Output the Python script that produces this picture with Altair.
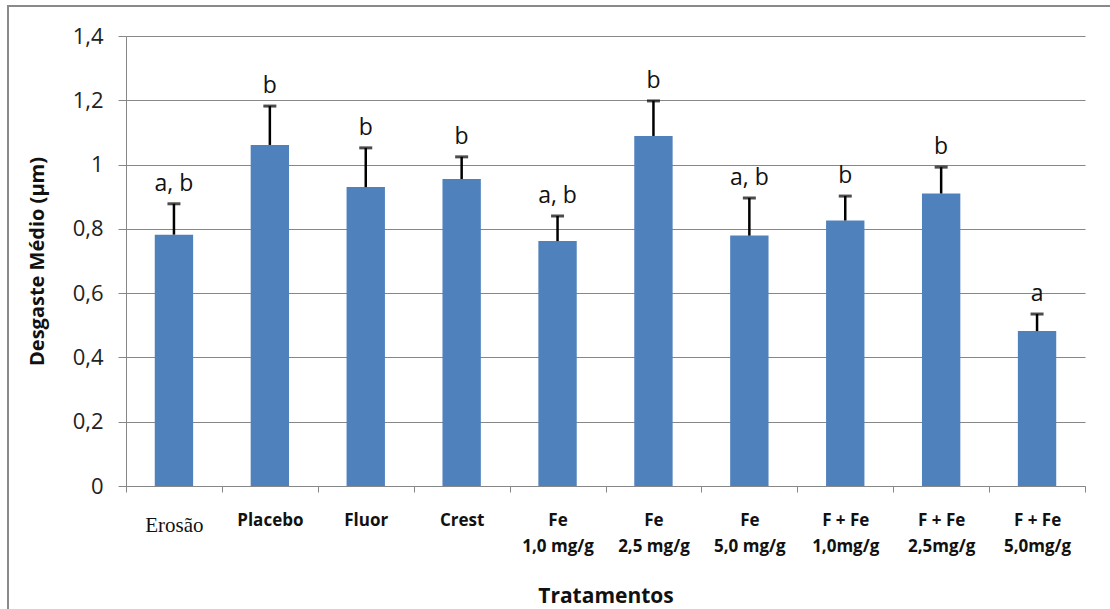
import altair as alt
import pandas as pd

# Tratamentos (line breaks mark two-line axis labels)
tratamentos = [
    "Erosão", "Placebo", "Fluor", "Crest",
    "Fe\n1,0 mg/g", "Fe\n2,5 mg/g", "Fe\n5,0 mg/g",
    "F + Fe\n1,0mg/g", "F + Fe\n2,5mg/g", "F + Fe\n5,0mg/g",
]
# Desgaste médio (µm) and its standard deviation
media = [0.782, 1.061, 0.930, 0.955, 0.762, 1.089, 0.779, 0.826, 0.910, 0.482]
desvio = [0.096, 0.121, 0.122, 0.069, 0.078, 0.109, 0.117, 0.076, 0.082, 0.053]
# Statistical grouping letters
letras = ["a, b", "b", "b", "b", "a, b", "b", "a, b", "b", "b", "a"]
y_ticks = [0, 0.2, 0.4, 0.6, 0.8, 1.0, 1.2, 1.4]

df = pd.DataFrame({
    "trat": tratamentos,
    "media": media,
    "desvio": desvio,
    "letra": letras,
})
df["sup"] = df["media"] + df["desvio"]

GRID = "#878787"
BAR = "#4F81BD"
FONT = "Open Sans"

x_enc = alt.X(
    "trat:N",
    sort=tratamentos,
    scale=alt.Scale(paddingInner=0, paddingOuter=0),
    axis=alt.Axis(
        title="Tratamentos",
        titleFont=FONT,
        titleFontSize=21,
        titleFontWeight="bold",
        titleColor="#111",
        titlePadding=31,
        labelAngle=0,
        labelExpr="split(datum.label, '\\n')",
        labelFont={"condition": {"test": "datum.value == 'Erosão'", "value": "Liberation Serif"}, "value": FONT},
        labelFontWeight={"condition": {"test": "datum.value == 'Erosão'", "value": "normal"}, "value": "bold"},
        labelFontSize={"condition": {"test": "datum.value == 'Erosão'", "value": 21}, "value": 17},
        labelBaseline={"condition": {"test": "datum.value == 'Erosão'", "value": "line-top"}, "value": "top"},
        labelLineHeight=26,
        labelColor="#111",
        labelPadding=20,
        tickBand="extent",
        tickSize=6,
        tickColor=GRID,
        domainColor=GRID,
        grid=False,
    ),
)

y_enc = alt.Y(
    "media:Q",
    scale=alt.Scale(domain=[0, 1.4], nice=False),
    axis=alt.Axis(
        title="Desgaste Médio (µm)",
        titleFont=FONT,
        titleFontSize=20,
        titleFontWeight="bold",
        titleColor="#111",
        titlePadding=25,
        values=y_ticks,
        labelExpr="replace(format(datum.value, '.1~f'), '.', ',')",
        labelFont=FONT,
        labelFontSize=22,
        labelColor="#222",
        labelPadding=15,
        tickSize=8,
        tickColor=GRID,
        domainColor=GRID,
        gridColor=GRID,
        gridWidth=1,
    ),
)

base = alt.Chart(df)

bars = base.mark_bar(color=BAR, width=alt.RelativeBandSize(0.4)).encode(x=x_enc, y=y_enc)

err = base.mark_rule(color="black", strokeWidth=2.5).encode(
    x=alt.X("trat:N", sort=tratamentos), y="media:Q", y2="sup:Q"
)

caps = base.mark_tick(color="black", size=13, thickness=3).encode(
    x=alt.X("trat:N", sort=tratamentos), y="sup:Q"
)

labels = base.mark_text(
    font=FONT, fontSize=23, color="#111", baseline="alphabetic", dy=-13
).encode(x=alt.X("trat:N", sort=tratamentos), y="sup:Q", text="letra:N")

# outer frame around the whole figure
frame = alt.Chart(alt.Data(values=[{}])).mark_rect(
    filled=False, stroke="#8a8a8a", strokeWidth=2
).encode(
    x=alt.value(-118), x2=alt.value(1000), y=alt.value(-30), y2=alt.value(600)
)

chart = (
    alt.layer(bars, err, caps, labels, frame)
    .properties(
        width=959,
        height=450,
        autosize=alt.AutoSizeParams(type="none"),
        padding={"left": 126, "top": 36, "right": 25, "bottom": 123},
        background="white",
    )
    .configure_view(stroke=None)
)

chart.save("out.html", embed_options={"renderer": "svg", "actions": False})
